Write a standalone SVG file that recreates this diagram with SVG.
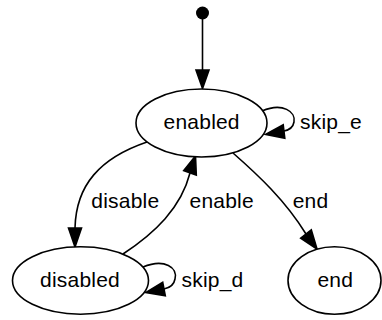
<svg xmlns="http://www.w3.org/2000/svg" width="382" height="320" viewBox="0 0 382 320">
<style>
.node ellipse{fill:#fff;stroke:#000;stroke-width:1.6}
.edge path{fill:none;stroke:#000;stroke-width:1.6}
.edge polygon{fill:#000;stroke:#000;stroke-width:1.6;stroke-linejoin:miter}
text{font-family:"Liberation Sans",Arial,sans-serif;font-size:21px;letter-spacing:0.2px;fill:#000}
.c{text-anchor:middle}
</style>
<rect width="382" height="320" fill="#fff"/>
<g id="edges" class="edge">
<path d="M202.5,19 L202.5,70"/>
<polygon points="202.5,88.5 196,70 209,70"/>
<path d="M262,111 C283,102 296,112 294,122 C293,128 289,130 284,131"/>
<polygon points="265.5,134.5 283.2,124.8 284.8,138.2"/>
<path d="M147,142 C100,158 76,185 75,228"/>
<polygon points="75,247 68.5,228 81.5,228"/>
<path d="M123,254 C155,233 181,208 190,173"/>
<polygon points="195.5,156 196.3,175 183.7,170.6"/>
<path d="M233,153 C258,175 285,200 306,234"/>
<polygon points="317,249 311.3,229.9 300.7,238.1"/>
<path d="M143,267 C165,258 178,268 175,279 C174,285 169,288 164,289"/>
<polygon points="146,292.5 162.7,282.3 165.3,295.7"/>
</g>
<g id="initial" class="node"><circle cx="202.5" cy="13" r="6.5" fill="#000"/></g>
<g id="enabled" class="node"><ellipse cx="201.5" cy="123" rx="65.5" ry="34"/><text class="c" x="201.7" y="128.5">enabled</text></g>
<g id="disabled" class="node"><ellipse cx="80.5" cy="280.5" rx="68" ry="33.7"/><text class="c" x="80" y="287.3">disabled</text></g>
<g id="end" class="node"><ellipse cx="334.5" cy="280.5" rx="46.5" ry="33.7"/><text class="c" x="335.3" y="287">end</text></g>
<g id="labels">
<text x="300" y="128.5">skip_e</text>
<text x="181.5" y="287.3">skip_d</text>
<text class="c" x="125.3" y="208.3">disable</text>
<text class="c" x="221.7" y="208.3">enable</text>
<text class="c" x="310.5" y="208.3">end</text>
</g>
</svg>
